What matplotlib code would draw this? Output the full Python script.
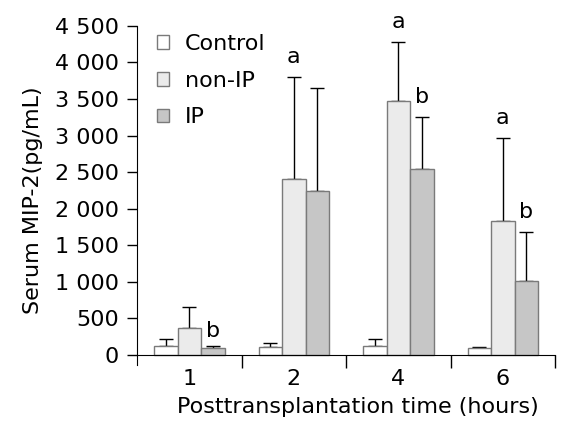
import numpy as np
import matplotlib.pyplot as plt

times = ['1', '2', '4', '6']
groups = ['Control', 'non-IP', 'IP']
control = [123, 109, 123, 96]
control_err = [96, 55, 96, 13]
non_ip = [369, 2407, 3474, 1832]
non_ip_err = [287, 1395, 807, 1136]
ip = [96, 2243, 2544, 1012]
ip_err = [27, 1408, 711, 670]

# significance marks: (group index, series index, letter)
marks = [(0, 2, 'b'), (1, 1, 'a'), (2, 1, 'a'), (3, 1, 'a'), (2, 2, 'b'), (3, 2, 'b')]

colors = ['white', '#ebebeb', '#c6c6c6']
edge = '#7a7a7a'
fs = 16

fig = plt.figure(figsize=(5.88, 4.32), dpi=100)
ax = fig.add_axes([0.233, 0.155, 0.711, 0.785])

x = np.arange(len(times)) + 0.5
w = 0.225
series = [(control, control_err), (non_ip, non_ip_err), (ip, ip_err)]
bars = []
for i, (vals, errs) in enumerate(series):
    pos = x + (i - 1) * w
    ax.bar(pos, vals, w, color=colors[i], edgecolor=edge, linewidth=1.0,
           label=groups[i], zorder=2)
    ax.errorbar(pos, vals, yerr=[np.zeros(len(vals)), errs], fmt='none',
                ecolor='black', elinewidth=1.0, capsize=5, capthick=1.0, zorder=1)
    bars.append(pos)

for gi, si, letter in marks:
    top = series[si][0][gi] + series[si][1][gi]
    off = 70 if gi == 0 else 130
    ax.text(bars[si][gi], top + off, letter, ha='center', va='bottom', fontsize=fs)

ax.set_xlim(0, 4)
ax.set_ylim(-140, 4500)
ax.spines['top'].set_visible(False)
ax.spines['right'].set_visible(False)
ax.spines['bottom'].set_position(('data', 0))
ax.spines['bottom'].set_bounds(0, 4)
ax.set_yticks(np.arange(0, 4501, 500))
ax.set_yticklabels([f'{v:,}'.replace(',', ' ') for v in range(0, 4501, 500)])
ax.spines['left'].set_bounds(-140, 4500)
ax.set_xticks([1, 2, 3, 4])
ax.set_xticklabels([])
ax.set_xticks(x, minor=True)
ax.set_xticklabels(times, minor=True)
ax.tick_params(axis='x', which='major', direction='out', length=9, width=1)
ax.tick_params(axis='x', which='minor', length=0, pad=10, labelsize=fs)
ax.tick_params(axis='y', direction='out', length=7, width=1, labelsize=fs, pad=6)

ax.set_ylabel('Serum MIP-2(pg/mL)', fontsize=fs)
ax.yaxis.set_label_coords(-0.225, 0.487)
ax.set_xlabel('Posttransplantation time (hours)', fontsize=fs)
ax.xaxis.set_label_coords(0.529, -0.094)

ax.legend(loc='upper left', bbox_to_anchor=(0.0, 1.035), frameon=False, fontsize=fs,
          handlelength=0.55, handleheight=0.55, handletextpad=0.7, labelspacing=0.75)

fig.savefig('out.png', dpi=100)
